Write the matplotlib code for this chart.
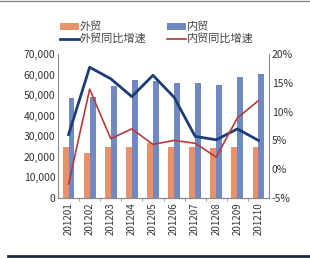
import matplotlib.pyplot as plt
import numpy as np

plt.rcParams['font.family'] = ['Noto Sans CJK SC', 'DejaVu Sans']

months = ['201201', '201202', '201203', '201204', '201205',
          '201206', '201207', '201208', '201209', '201210']
foreign = [24900, 22100, 24900, 24900, 26700, 25000, 25000, 24200, 24600, 25000]
domestic = [48600, 49100, 54300, 57400, 57000, 55900, 55900, 55000, 58900, 60500]
foreign_yoy = [6.0, 17.7, 15.7, 12.6, 16.3, 12.5, 5.7, 5.1, 7.0, 5.0]
domestic_yoy = [-2.6, 13.9, 5.3, 7.0, 4.3, 5.0, 4.5, 2.1, 8.9, 11.9]

c_orange = '#E9916B'
c_blue = '#7189C3'
c_navy = '#1C3D78'
c_red = '#B63A3A'
c_axis = '#8A8A8A'

fig = plt.figure(figsize=(3.1, 2.58), dpi=100)
ax = fig.add_axes([58 / 310, 60 / 258, 211 / 310, 144 / 258])
ax2 = ax.twinx()

x = np.arange(len(months))
w = 0.28
b1 = ax.bar(x - w / 2, foreign, w, color=c_orange, label='外贸')
b2 = ax.bar(x + w / 2, domestic, w, color=c_blue, label='内贸')
l1, = ax2.plot(x, foreign_yoy, color=c_navy, lw=2, label='外贸同比增速')
l2, = ax2.plot(x, domestic_yoy, color=c_red, lw=1.2, label='内贸同比增速')

ax.set_xlim(-0.5, len(months) - 0.5)
ax.set_ylim(0, 70000)
ax.set_yticks(range(0, 70001, 10000))
ax.set_yticklabels([f'{v:,}' for v in range(0, 70001, 10000)])
ax2.set_ylim(-5, 20)
ax2.set_yticks(range(-5, 21, 5))
ax2.set_yticklabels([f'{v}%' for v in range(-5, 21, 5)])

ax.set_xticks(x)
ax.set_xticklabels(months, rotation=90)
ax.set_xticks(x[:-1] + 0.5, minor=True)
ax.tick_params(axis='x', which='major', length=0, pad=3)
ax.tick_params(axis='x', which='minor', length=2, color=c_axis)

for a in (ax, ax2):
    a.spines['top'].set_visible(False)
    for s in ('left', 'right', 'bottom'):
        a.spines[s].set_color(c_axis)
        a.spines[s].set_linewidth(0.8)
    a.tick_params(axis='y', length=0, labelsize=7.5, colors='#333333', pad=2)
ax.tick_params(axis='x', labelsize=7, colors='#333333')
ax.spines['right'].set_visible(False)
ax2.spines['left'].set_visible(False)

fig.legend([b1, l1, b2, l2], ['外贸', '外贸同比增速', '内贸', '内贸同比增速'],
           ncol=2, loc='upper left', bbox_to_anchor=(60 / 310, 1 - 22 / 258),
           frameon=False, fontsize=8, handlelength=1.7, handleheight=0.6,
           handletextpad=0.1, columnspacing=1.8, labelspacing=0.1,
           borderaxespad=0, borderpad=0, labelcolor='#444444')

fig.add_artist(plt.Line2D([0, 1], [1 - 1 / 258, 1 - 1 / 258], color='#888888', lw=1))
fig.add_artist(plt.Line2D([8 / 310, 1], [2 / 258, 2 / 258], color='#1E2A3A', lw=2))

fig.savefig('out.png', dpi=100)
